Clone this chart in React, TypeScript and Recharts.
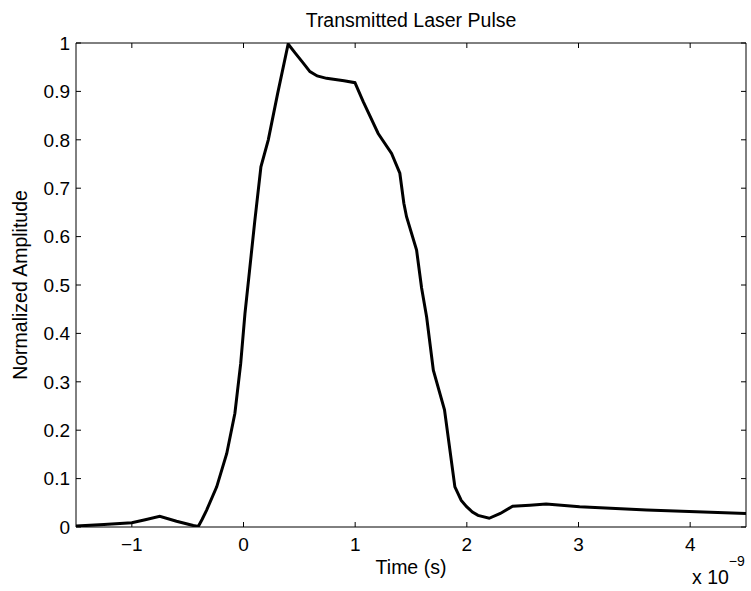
import { LineChart, Line, XAxis, YAxis, Label } from 'recharts';

// time in units of 1e-9 s (ns), amplitude normalized to peak
const timeNs = [
  -1.5, -1.25, -1.0, -0.88, -0.75, -0.6, -0.45, -0.405, -0.37, -0.33, -0.24, -0.15, -0.077, -0.025,
  0.013, 0.045, 0.1, 0.156, 0.222, 0.306, 0.4, 0.46, 0.53, 0.595, 0.66, 0.744, 0.9, 0.998,
  1.072, 1.206, 1.326, 1.4, 1.436, 1.46, 1.55, 1.595, 1.64, 1.7, 1.8, 1.893, 1.95, 1.998,
  2.05, 2.1, 2.2, 2.3, 2.41, 2.565, 2.71, 3.01, 3.61, 4.5,
];
const amplitude = [
  0.002, 0.005, 0.009, 0.015, 0.022, 0.012, 0.003, 0.001, 0.016, 0.035, 0.083, 0.152, 0.235, 0.338,
  0.441, 0.51, 0.63, 0.744, 0.8, 0.896, 0.998, 0.98, 0.96, 0.941, 0.932, 0.927, 0.922, 0.918,
  0.879, 0.813, 0.772, 0.731, 0.669, 0.641, 0.572, 0.494, 0.434, 0.324, 0.242, 0.083, 0.055, 0.042,
  0.031, 0.024, 0.018, 0.028, 0.043, 0.045, 0.0475, 0.042, 0.035, 0.028,
];
const xTicks = [-1, 0, 1, 2, 3, 4];
const yTicks = [0, 0.1, 0.2, 0.3, 0.4, 0.5, 0.6, 0.7, 0.8, 0.9, 1];

const data = timeNs.map((t, i) => ({ t, a: amplitude[i] }));

const FONT = '"Liberation Sans", Arial, Helvetica, sans-serif';
const axisStyle = { stroke: '#000', strokeWidth: 1 };
const tickStyle = { fill: '#000', fontSize: 19, fontFamily: FONT };

const fmtX = (v: number) => (v < 0 ? `\u2212${Math.abs(v)}` : `${v}`);
const blank = () => '';

const renderTitle = (props: any) => {
  const vb = props.viewBox || { x: 76, width: 670 };
  return (
    <text x={vb.x + vb.width / 2} y={27} textAnchor="middle" fontSize={19.5} fontFamily={FONT} fill="#000">
      Transmitted Laser Pulse
    </text>
  );
};

const renderXLabel = (props: any) => {
  const vb = props.viewBox || { x: 76, y: 527, width: 670 };
  return (
    <g>
      <text x={vb.x + vb.width / 2} y={vb.y + 47} textAnchor="middle" fontSize={19.5} fontFamily={FONT} fill="#000">
        Time (s)
      </text>
      <text x={692} y={584} fontSize={19.5} fontFamily={FONT} fill="#000">
        x 10
        <tspan dy={-18} fontSize={14}>{'\u22129'}</tspan>
      </text>
    </g>
  );
};

const renderYLabel = (props: any) => {
  const vb = props.viewBox || { y: 43, height: 484 };
  const cx = 27;
  const cy = vb.y + vb.height / 2;
  return (
    <text
      x={cx}
      y={cy}
      transform={`rotate(-90, ${cx}, ${cy})`}
      textAnchor="middle"
      fontSize={19.5}
      fontFamily={FONT}
      fill="#000"
    >
      Normalized Amplitude
    </text>
  );
};

export default function App() {
  return (
    <div style={{ position: 'absolute', left: 0, top: 0, width: 751, height: 591, background: '#fff' }}>
      <LineChart width={751} height={591} data={data} margin={{ top: 42, right: 4, bottom: 0, left: 0 }}>
        <XAxis
          xAxisId="bottom"
          dataKey="t"
          type="number"
          domain={[-1.5, 4.5]}
          ticks={xTicks}
          tickFormatter={fmtX}
          allowDataOverflow
          height={64}
          tickSize={-5}
          tickMargin={16}
          axisLine={axisStyle}
          tickLine={axisStyle}
          tick={tickStyle}
        >
          <Label content={renderXLabel} />
        </XAxis>
        <XAxis
          xAxisId="top"
          orientation="top"
          dataKey="t"
          type="number"
          domain={[-1.5, 4.5]}
          ticks={xTicks}
          tickFormatter={blank}
          allowDataOverflow
          height={1}
          tickSize={-5}
          axisLine={axisStyle}
          tickLine={axisStyle}
          tick={tickStyle}
        >
          <Label content={renderTitle} />
        </XAxis>
        <YAxis
          yAxisId="left"
          type="number"
          domain={[0, 1]}
          ticks={yTicks}
          allowDataOverflow
          width={76}
          tickSize={-5}
          tickMargin={11}
          axisLine={axisStyle}
          tickLine={axisStyle}
          tick={tickStyle}
        >
          <Label content={renderYLabel} />
        </YAxis>
        <YAxis
          yAxisId="right"
          orientation="right"
          type="number"
          domain={[0, 1]}
          ticks={yTicks}
          tickFormatter={blank}
          allowDataOverflow
          width={1}
          tickSize={-5}
          axisLine={axisStyle}
          tickLine={axisStyle}
          tick={tickStyle}
        />
        <Line
          xAxisId="top"
          yAxisId="right"
          dataKey="a"
          type="linear"
          stroke="none"
          dot={false}
          activeDot={false}
          isAnimationActive={false}
        />
        <Line
          xAxisId="bottom"
          yAxisId="left"
          dataKey="a"
          type="linear"
          stroke="#000"
          strokeWidth={3}
          dot={false}
          activeDot={false}
          isAnimationActive={false}
        />
      </LineChart>
    </div>
  );
}
